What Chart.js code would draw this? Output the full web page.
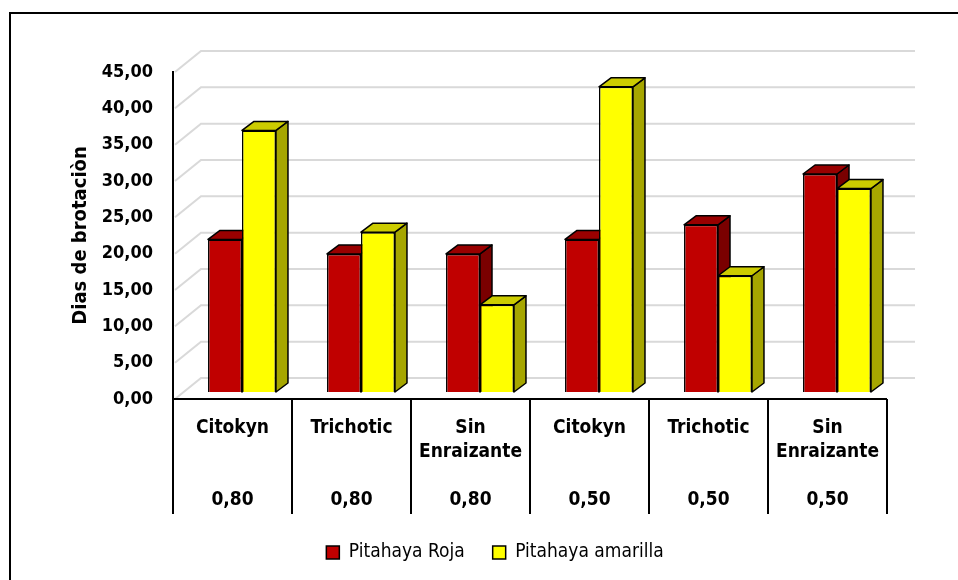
<!DOCTYPE html>
<html>
<head>
<meta charset="utf-8">
<script src="https://cdn.jsdelivr.net/npm/chart.js@4.4.1/dist/chart.umd.min.js"></script>
<style>
  body { margin: 0; background: #fff; }
  #wrap { width: 958px; height: 580px; }
</style>
</head>
<body>
<div id="wrap"><canvas id="myChart" width="958" height="580"></canvas></div>
<script>
// datos
const categories = ['Citokyn', 'Trichotic', 'Sin Enraizante', 'Citokyn', 'Trichotic', 'Sin Enraizante'];
const doses = ['0,80', '0,80', '0,80', '0,50', '0,50', '0,50'];
const rojaValues = [21, 19, 19, 21, 23, 30];
const amarillaValues = [36, 22, 12, 42, 16, 28];
const yTickLabels = ['0,00', '5,00', '10,00', '15,00', '20,00', '25,00', '30,00', '35,00', '40,00', '45,00'];

const FONT = "'Liberation Sans Narrow', 'Arial Narrow', 'DejaVu Sans Condensed', sans-serif";

// etiquetas de dos filas: nombre y dosis
const xLabels = categories.map((c, i) => {
    const parts = c.split(' ');
    const lines = parts.length > 1 ? parts : [c, ''];
    return [...lines, '', doses[i]];
});

// profundidad del efecto 3D
const WALL = { dx: 28, dy: -21 };
const BAR_SHIFT = { dx: 9.5, dy: -7 };
const BAR_DEPTH = { dx: 12, dy: -9 };
const LEGEND_SHIFT = 18;

const faceColors = [
    { top: '#990000', side: '#7a0000' },
    { top: '#cccc00', side: '#a6a600' }
];

const plot3d = {
    id: 'plot3d',
    afterLayout(chart) {
        // la leyenda va un poco a la derecha
        chart.legend.left += LEGEND_SHIFT;
        chart.legend.right += LEGEND_SHIFT;
    },
    beforeDraw(chart) {
        const ctx = chart.ctx;
        ctx.save();
        ctx.fillStyle = '#fff';
        ctx.fillRect(0, 0, chart.width, chart.height);
        ctx.strokeStyle = '#000';
        ctx.lineWidth = 2;
        ctx.strokeRect(10, 13, 1000, 1000);
        ctx.restore();
    },
    beforeDatasetsDraw(chart) {
        const ctx = chart.ctx;
        const area = chart.chartArea;
        const y = chart.scales.y;
        const x = chart.scales.x;

        // lineas de la pared del fondo
        ctx.save();
        ctx.strokeStyle = '#d9d9d9';
        ctx.lineWidth = 2;
        yTickLabels.forEach((t, i) => {
            const py = y.getPixelForValue(i * 5);
            ctx.beginPath();
            ctx.moveTo(area.left + 2, py);
            ctx.lineTo(area.left + WALL.dx, py + WALL.dy);
            ctx.lineTo(area.right + WALL.dx, py + WALL.dy);
            ctx.stroke();
        });
        ctx.restore();

        // barras con caras laterales
        const metas = [chart.getDatasetMeta(0), chart.getDatasetMeta(1)];
        ctx.save();
        ctx.translate(BAR_SHIFT.dx, BAR_SHIFT.dy);
        for (let i = 0; i < categories.length; i++) {
            metas.forEach((meta, d) => {
                const bar = meta.data[i];
                const l = bar.x - bar.width / 2;
                const r = bar.x + bar.width / 2;
                const top = bar.y;
                const base = bar.base;
                bar.draw(ctx);
                ctx.lineWidth = 1.5;
                ctx.strokeStyle = '#000';
                ctx.lineJoin = 'round';
                // lado
                ctx.beginPath();
                ctx.moveTo(r, top);
                ctx.lineTo(r + BAR_DEPTH.dx, top + BAR_DEPTH.dy);
                ctx.lineTo(r + BAR_DEPTH.dx, base + BAR_DEPTH.dy);
                ctx.lineTo(r, base);
                ctx.closePath();
                ctx.fillStyle = faceColors[d].side;
                ctx.fill();
                ctx.stroke();
                // tapa
                ctx.beginPath();
                ctx.moveTo(l, top);
                ctx.lineTo(l + BAR_DEPTH.dx, top + BAR_DEPTH.dy);
                ctx.lineTo(r + BAR_DEPTH.dx, top + BAR_DEPTH.dy);
                ctx.lineTo(r, top);
                ctx.closePath();
                ctx.fillStyle = faceColors[d].top;
                ctx.fill();
                ctx.stroke();
            });
        }
        ctx.restore();

        // tabla de categorias
        ctx.save();
        ctx.strokeStyle = '#000';
        ctx.lineWidth = 2;
        const half = (x.getPixelForValue(1) - x.getPixelForValue(0)) / 2;
        ctx.beginPath();
        ctx.moveTo(area.left, area.bottom);
        ctx.lineTo(area.right, area.bottom);
        for (let i = 0; i <= categories.length; i++) {
            const px = x.getPixelForValue(i) - half;
            ctx.moveTo(px, area.bottom);
            ctx.lineTo(px, area.bottom + 115);
        }
        ctx.stroke();
        ctx.restore();
        return false;
    }
};

const ctx = document.getElementById('myChart').getContext('2d');
const myChart = new Chart(ctx, {
    type: 'bar',
    data: {
        labels: xLabels,
        datasets: [{
            label: 'Pitahaya Roja',
            data: rojaValues,
            backgroundColor: '#c00000',
            borderColor: '#000',
            borderWidth: 1.5,
            categoryPercentage: 0.571,
            barPercentage: 1
        }, {
            label: 'Pitahaya amarilla',
            data: amarillaValues,
            backgroundColor: '#ffff00',
            borderColor: '#000',
            borderWidth: 1.5,
            categoryPercentage: 0.571,
            barPercentage: 1
        }]
    },
    options: {
        responsive: false,
        animation: false,
        layout: { padding: { left: 67, right: 71, top: 72, bottom: 8 } },
        plugins: {
            tooltip: { enabled: false },
            legend: {
                position: 'bottom',
                labels: {
                    color: '#000',
                    font: { family: FONT, size: 19 },
                    boxWidth: 13,
                    boxHeight: 13,
                    padding: 28
                }
            }
        },
        scales: {
            x: {
                grid: { display: false, drawTicks: false },
                border: { display: false },
                ticks: {
                    color: '#000',
                    maxRotation: 0,
                    autoSkip: false,
                    padding: 17,
                    font: { family: FONT, size: 19, weight: 'bold', lineHeight: 1.26 }
                },
                afterFit(scale) { scale.height = 116; }
            },
            y: {
                min: 0,
                max: 45,
                ticks: {
                    stepSize: 5,
                    color: '#000',
                    padding: 20,
                    font: { family: FONT, size: 18, weight: 'bold' },
                    callback: (v, i) => yTickLabels[i]
                },
                grid: { display: false, drawTicks: false },
                border: { display: true, color: '#000', width: 2 },
                title: {
                    display: true,
                    text: 'Dias de brotaciòn',
                    color: '#000',
                    padding: { top: 2, bottom: 0 },
                    font: { family: FONT, size: 20, weight: 'bold' }
                },
                afterFit(scale) { scale.width = 106; }
            }
        }
    },
    plugins: [plot3d]
});
</script>
</body>
</html>
